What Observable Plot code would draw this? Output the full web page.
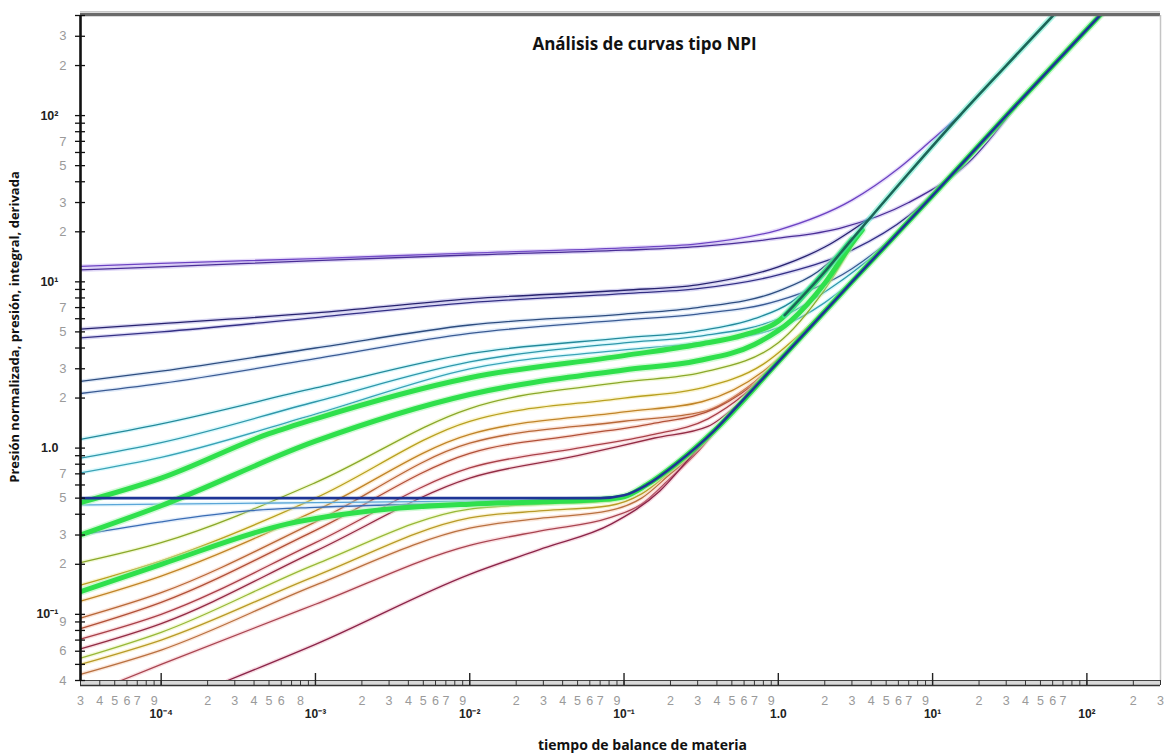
<!DOCTYPE html>
<html><head><meta charset="utf-8">
<script src="https://cdn.jsdelivr.net/npm/d3@7"></script>
<script src="https://cdn.jsdelivr.net/npm/@observablehq/plot@0.6"></script>
<style>body{margin:0;background:#fff;}</style>
</head><body><div id="chart"></div>
<script>
// ---------- DATA ----------
// Each curve: [tiempo de balance de materia, presión normalizada]
const purpleA = [[3e-5,12.4],[1e-4,12.9],[1e-3,13.8],[1e-2,14.9],[0.1,16.0],[0.3,16.9],[1,20.5],[3,31],[6,48],[10,72],[15,100]];
const purpleB = [[3e-5,11.8],[1e-4,12.3],[1e-3,13.4],[1e-2,14.5],[0.1,15.5],[0.3,16.3],[1,18.3],[2.5,21],[7,30],[17,52],[36,119]];
const navyA   = [[3e-5,5.2],[1e-4,5.6],[1e-3,6.5],[1e-2,7.9],[0.1,8.9],[0.3,9.6],[1,12.3],[2,16.2],[4,24.5]];
const navyB   = [[3e-5,4.6],[1e-4,5.0],[1e-3,6.1],[1e-2,7.5],[0.1,8.5],[0.3,9.1],[1,11],[3,15.5],[7,25],[15,50]];
const slateA  = [[3e-5,2.52],[1e-4,2.9],[1e-3,4.0],[1e-2,5.5],[0.1,6.4],[0.3,7.0],[1,8.8],[1.8,11.5],[2.6,15.5]];
const slateB  = [[3e-5,2.13],[1e-4,2.45],[1e-3,3.45],[1e-2,4.9],[0.1,5.9],[0.3,6.4],[1,7.7],[3,12],[5.5,18.5],[8,26.4]];
const cyanA   = [[3e-5,1.13],[1e-4,1.4],[1e-3,2.3],[1e-2,3.7],[0.1,4.6],[0.3,5.05],[0.7,6.0],[1.2,7.5],[2,11.5]];
const cyanB   = [[3e-5,0.87],[1e-4,1.08],[1e-3,1.9],[1e-2,3.3],[0.1,4.3],[0.3,4.7],[1,6.0],[2.5,10],[5,16.5]];
const cyanC   = [[3e-5,0.71],[1e-4,0.88],[1e-3,1.6],[1e-2,3.0],[0.1,3.9],[0.3,4.3],[1,5.3],[2,7.5],[3,10]];
const green1  = [[3e-5,0.47],[1e-4,0.66],[5e-4,1.22],[1e-3,1.5],[1e-2,2.65],[0.1,3.6],[0.3,4.2],[0.6,4.8],[1,5.8],[1.5,8.5],[2,11.5],[3,18]];
const green2  = [[3e-5,0.3],[1e-4,0.45],[1e-3,1.1],[1e-2,2.1],[0.1,2.95],[0.3,3.35],[0.7,4.2],[1.2,5.8],[2,9.8],[3,17],[3.5,20.5]];
const green3  = [[3e-5,0.137],[1e-4,0.2],[6.6e-4,0.35],[3e-3,0.43],[1e-2,0.46],[0.03,0.475],[0.07,0.49],[0.1,0.51],[0.14,0.6],[0.22,0.81],[0.38,1.26],[1,3.3],[3,10],[10,33],[30,100],[125,412]];
const thinC1  = [[3e-5,0.455],[1e-4,0.46],[1e-3,0.47],[1e-2,0.48],[0.05,0.49],[0.1,0.51]];
const thinC2  = [[3e-5,0.3],[1e-4,0.36],[3.8e-4,0.42],[1e-3,0.44],[1e-2,0.465],[0.05,0.48],[0.1,0.51]];
const b1  = [[3e-5,0.205],[1e-4,0.27],[1e-3,0.62],[1e-2,1.73],[0.1,2.5],[0.32,2.85],[1,4.3],[2,9],[3.5,21]];
const b2  = [[3e-5,0.15],[1e-4,0.21],[1e-3,0.5],[1e-2,1.45],[0.1,2.0],[0.32,2.3],[0.8,3.2],[1.5,5.2],[2.5,8.3]];
const b3  = [[3e-5,0.12],[1e-4,0.17],[1e-3,0.42],[1e-2,1.21],[0.1,1.65],[0.32,1.9],[0.8,2.9],[1.5,5.0],[2,6.6]];
const b4  = [[3e-5,0.095],[1e-4,0.135],[1e-3,0.36],[1e-2,1.07],[0.1,1.45],[0.32,1.65],[0.7,2.5],[1.2,4.0]];
const b5  = [[3e-5,0.082],[1e-4,0.118],[1e-3,0.32],[1e-2,0.93],[0.05,1.2],[0.15,1.4],[0.4,1.75],[0.8,2.7],[1.1,3.6]];
const b6  = [[3e-5,0.071],[1e-4,0.1],[1e-3,0.27],[1e-2,0.76],[0.05,1.0],[0.15,1.2],[0.35,1.5],[0.6,2.1],[0.9,3.0]];
const b7  = [[3e-5,0.062],[1e-4,0.088],[1e-3,0.24],[1e-2,0.66],[0.05,0.9],[0.158,1.15],[0.35,1.35],[0.55,1.85],[0.7,2.3]];
const b8  = [[3e-5,0.0545],[1e-4,0.078],[1e-3,0.2],[1e-2,0.43],[0.03,0.46],[0.08,0.48],[0.12,0.55],[0.2,0.74],[0.3,1.0]];
const b9  = [[3e-5,0.05],[1e-4,0.07],[1e-3,0.17],[1e-2,0.38],[0.03,0.42],[0.08,0.45],[0.13,0.53],[0.2,0.72],[0.3,0.99]];
const b10 = [[3e-5,0.0436],[1e-4,0.061],[1e-3,0.15],[1e-2,0.33],[0.03,0.38],[0.08,0.42],[0.13,0.5],[0.2,0.7],[0.3,0.97],[0.4,1.32]];
const b11 = [[5.5e-5,0.04],[1e-4,0.05],[1e-3,0.115],[1e-2,0.26],[0.03,0.32],[0.08,0.38],[0.13,0.46],[0.2,0.66],[0.3,0.95],[0.45,1.48]];
const b12 = [[2.7e-4,0.04],[1e-3,0.066],[1e-2,0.174],[0.03,0.25],[0.083,0.35],[0.17,0.55],[0.28,0.92],[0.5,1.65]];
const mainCurve = [[3e-5,0.5],[1e-3,0.5],[1e-2,0.5],[0.07,0.5],[0.1,0.52],[0.14,0.6],[0.22,0.81],[0.38,1.26],[0.6,1.98],[1,3.3],[3,10],[10,33],[30,100],[125,412]];
const leftCurve = [[1.1,6.3],[2,11.5],[3,18],[7,45],[15,100],[30,200],[62,410]];

// tick labels
const yDigitVals = [300,200,70,50,30,20,7,5,3,2,0.7,0.5,0.3,0.2,0.09,0.06,0.04];
const yDigitText = ["3","2","7","5","3","2","7","5","3","2","7","5","3","2","9","6","4"];
const yDecVals = [100,10,1,0.1];
const yDecText = ["10²","10¹","1.0","10⁻¹"];
const xDigitVals = [3e-5,4e-5,5e-5,6e-5,7e-5,9e-5, 2e-4,3e-4,4e-4,5e-4,6e-4,8e-4,
  2e-3,3e-3,4e-3,5e-3,6e-3,7e-3,9e-3, 2e-2,3e-2,4e-2,5e-2,6e-2,7e-2,9e-2,
  0.2,0.3,0.4,0.5,0.6,0.7,0.9, 2,3,4,5,6,7,9, 20,30,40,50,60,70, 200,300];
const xDigitText = ["3","4","5","6","7","9","2","3","4","5","6","8",
  "2","3","4","5","6","7","9","2","3","4","5","6","7","9",
  "2","3","4","5","6","7","9","2","3","4","5","6","7","9","2","3","4","5","6","7","2","3"];
const xDecVals = [1e-4,1e-3,1e-2,1e-1,1,10,100];
const xDecText = ["10⁻⁴","10⁻³","10⁻²","10⁻¹","1.0","10¹","10²"];

// ---------- STYLES ----------
const thinStyles = [
  [purpleA,"#6c42c2","#b79cf2"],[purpleB,"#4a2e96","#a48be6"],
  [navyA,"#27226e","#8c86d6"],[navyB,"#332f84","#9893e0"],
  [slateA,"#2d4c7e","#9bbbe6"],[slateB,"#3a5a92","#a4c4ee"],
  [cyanA,"#23899a","#86e6f4"],[cyanB,"#2f97aa","#90eaf6"],[cyanC,"#3aa3b6","#9aeef8"],
  [b1,"#8aa82a","#d9ee8c"],[b2,"#b8a020","#f2e07a"],[b3,"#c08428","#f6ca7e"],
  [b4,"#b86838","#f2b08e"],[b5,"#b05038","#f0a08a"],[b6,"#a84048","#f0a0a8"],[b7,"#922c44","#e89aa8"],
  [b8,"#98b838","#dcef90"],[b9,"#b89a28","#f2dc80"],[b10,"#b87040","#f4b894"],
  [b11,"#a84450","#f0a4ac"],[b12,"#8a2448","#e494ac"],
  [thinC1,"#5aa6d8","#b4e4fa"],[thinC2,"#3a6cb4","#a8c8f0"]
];
const toRows = pts => pts.map(([t, v]) => ({t, v}));
function lineMarks(pts, core, halo, w, hw, ho) {
  const d = toRows(pts);
  return [
    Plot.line(d, {x:"t", y:"v", stroke: halo, strokeWidth: hw, strokeOpacity: ho, curve:"monotone-x", clip:true}),
    Plot.line(d, {x:"t", y:"v", stroke: core, strokeWidth: w, curve:"monotone-x", clip:true})
  ];
}
const yTicksAll = [];
for (const e of [-2,-1,0,1,2]) for (let k = 1; k <= 9; k++) { const v = k * 10 ** e; if (v >= 0.04 && v <= 400) yTicksAll.push(+v.toPrecision(3)); }
const xTicksAll = [];
for (const e of [-5,-4,-3,-2,-1,0,1,2]) for (let k = 1; k <= 9; k++) { const v = k * 10 ** e; if (v >= 3e-5 && v <= 300) xTicksAll.push(+v.toPrecision(3)); }

const marks = [
  // thin curves
  ...thinStyles.flatMap(([p, c, h]) => lineMarks(p, c, h, 1.3, 4, 0.35)),
  // thick green curves
  ...[green1, green2, green3].flatMap(p => lineMarks(p, "#2fe04c", "#a8f4b0", 5, 8, 0.5)),
  // main curves
  ...lineMarks(mainCurve, "#1e3596", "#6fe08a", 2.6, 4, 0.0),
  ...lineMarks(leftCurve, "#1b6658", "#44e8c4", 2.6, 6, 0.45),
  // frame
  Plot.ruleY([400], {stroke:"#c8c8c8", strokeWidth:1, dy:-4}),
  Plot.ruleY([400], {stroke:"#6a6a6a", strokeWidth:3.5, dy:-1}),
  Plot.ruleX([300], {stroke:"#c4c4c4", strokeWidth:1.5}),
  // x axis band
  Plot.ruleY([0.04], {stroke:"#d9d9d9", strokeWidth:5, dy:2.5}),
  Plot.ruleY([0.04], {stroke:"#444", strokeWidth:1.2}),
  Plot.ruleY([0.04], {stroke:"#333", strokeWidth:1.6, dy:5}),
  Plot.axisX({ticks: xTicksAll, tickSize: 5, tickFormat: () => "", label: null, stroke:"#333"}),
  Plot.axisX({ticks: xDecVals, tickSize: 12, dy: -7, tickFormat: () => "", label: null, stroke:"#222", strokeWidth:1.4}),
  // y axis
  Plot.axisY({ticks: yTicksAll, tickSize: 10, dx: 5, tickFormat: () => "", label: null, stroke:"#111", strokeWidth:1.3}),
  Plot.ruleX([3e-5], {stroke:"#111", strokeWidth:2.6, y1:0.04, y2:400}),
  // tick labels
  Plot.text(yDigitVals, {x: () => 3e-5, y: d => d, text: (d, i) => yDigitText[i], dx: -14, textAnchor:"end", fill:"#9a9a9a", fontSize:13, fontFamily:"Liberation Sans"}),
  Plot.text(yDecVals, {x: () => 3e-5, y: d => d, text: (d, i) => yDecText[i], dx: -22, textAnchor:"end", fill:"#222", fontSize:12.5, fontWeight:"bold", fontFamily:"Liberation Sans"}),
  Plot.text(xDigitVals, {x: d => d, y: () => 0.04, text: (d, i) => xDigitText[i], dy: 20, fill:"#9a9a9a", fontSize:12.5, fontFamily:"Liberation Sans"}),
  Plot.text(xDecVals, {x: d => d, y: () => 0.04, text: (d, i) => xDecText[i], dy: 34, fill:"#222", fontSize:12, fontWeight:"bold", fontFamily:"Liberation Sans"}),
  // titles
  Plot.text(["Análisis de curvas tipo NPI"], {frameAnchor:"top", lineAnchor:"middle", textAnchor:"middle", dx: 24, dy: 29, fontSize: 17, fontWeight:"bold", fontFamily:"Open Sans", fill:"#111"}),
  Plot.text(["Presión normalizada, presión, integral, derivada"], {frameAnchor:"left", textAnchor:"middle", lineAnchor:"middle", rotate:-90, dx:-66, dy:-21, fontSize:13, fontWeight:"bold", fontFamily:"Open Sans", fill:"#111"}),
  Plot.text(["tiempo de balance de materia"], {frameAnchor:"bottom", textAnchor:"middle", lineAnchor:"middle", dx: 22, dy: 65, fontSize:14, fontWeight:"bold", fontFamily:"Open Sans", fill:"#111"})
];

const chart = Plot.plot({
  width: 1164, height: 755,
  marginLeft: 80, marginRight: 4, marginTop: 15, marginBottom: 75,
  x: {type:"log", domain:[3e-5, 300]},
  y: {type:"log", domain:[0.04, 400]},
  style: {background:"#fff", overflow:"visible"},
  marks
});
document.getElementById("chart").appendChild(chart);
</script>
</body></html>
